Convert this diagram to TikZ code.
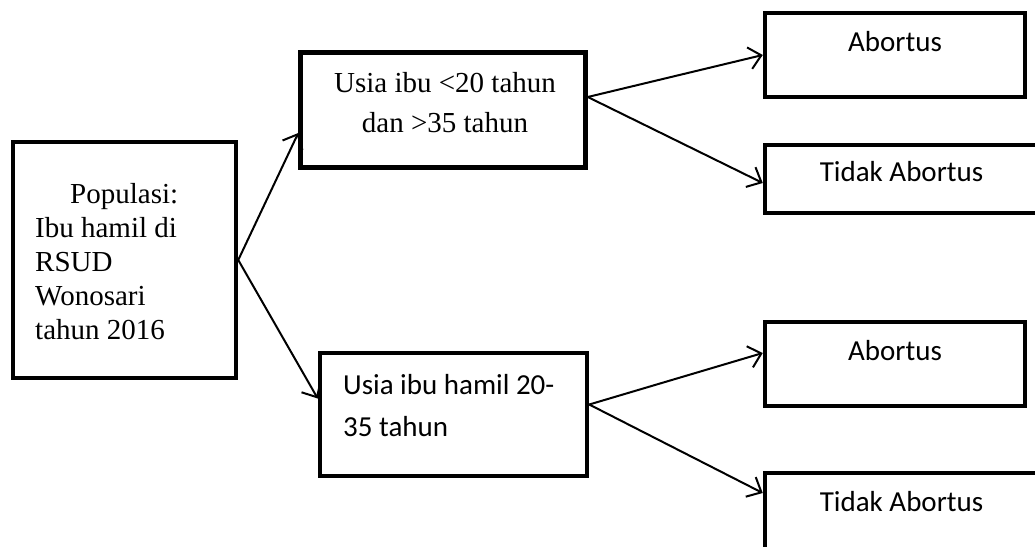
\documentclass[tikz,border=0pt]{standalone}
\usepackage{fontspec}
\setmainfont{Liberation Serif}
\newfontfamily\calibri{Carlito}
\usetikzlibrary{arrows.meta}

\tikzset{
  box/.style={draw, line width=4.5pt, rectangle, inner sep=0pt},
  arr/.style={line width=2pt, -{Straight Barb[length=12pt, width=22pt]}},
  serif/.style={inner sep=0pt, font=\fontsize{29}{34}\selectfont},
  sans/.style={inner sep=0pt, font=\calibri\fontsize{29}{42}\selectfont}
}

\begin{document}
\begin{tikzpicture}[x=1pt, y=-1pt]
\clip (0,0) rectangle (1035,546);

% Population box
\node[box, minimum width=223pt, minimum height=236pt] (pop) at (124.5,260) {};
\node[serif, align=left, anchor=west] (popt) at (35,262)
  {\hspace*{35pt}Populasi:\\Ibu hamil di\\RSUD\\Wonosari\\tahun 2016};

% Age groups
\node[box, minimum width=285pt, minimum height=115pt] (tua) at (443,110) {};
\node[serif, align=center, font=\fontsize{29}{40}\selectfont] (tuat) at (445,103)
  {Usia ibu <20 tahun\\dan >35 tahun};
\node[box, minimum width=267pt, minimum height=123pt] (mud) at (453.5,414.5) {};
\node[sans, align=left, anchor=west] (mudt) at (343,406)
  {Usia ibu hamil 20-\\35 tahun};

% Outcomes
\node[box, minimum width=260pt, minimum height=84pt] (ab1) at (895,55) {};
\node[sans] (ab1t) at ([yshift=-31pt]ab1.north) {Abortus};
\node[box, minimum width=273pt, minimum height=68pt] (ta1) at (901.5,179) {};
\node[sans] (ta1t) at ([yshift=-29pt]ta1.north) {Tidak Abortus};
\node[box, minimum width=260pt, minimum height=84pt] (ab2) at (895,364) {};
\node[sans] (ab2t) at ([yshift=-31pt]ab2.north) {Abortus};
\node[box, minimum width=273pt, minimum height=84pt] (ta2) at (901.5,515) {};
\node[sans] (ta2t) at ([yshift=-31pt]ta2.north) {Tidak Abortus};

% Arrows
\draw[arr] (pop.east) -- ([yshift=-23pt]tua.west);
\draw[arr] (pop.east) -- ([yshift=16pt]mud.west);
\draw[arr] ([yshift=13pt]tua.east) -- (ab1.west);
\draw[arr] ([yshift=13pt]tua.east) -- ([yshift=-4pt]ta1.west);
\draw[arr] ([yshift=10pt]mud.east) -- ([yshift=11pt]ab2.west);
\draw[arr] ([yshift=10pt]mud.east) -- ([yshift=22pt]ta2.west);
\end{tikzpicture}
\end{document}
